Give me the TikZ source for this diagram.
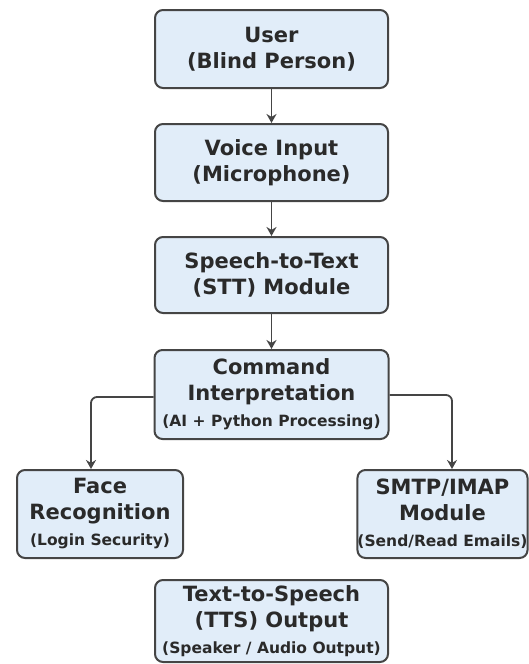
\documentclass[tikz,border=0pt]{standalone}
\usepackage{fontspec}
\setmainfont{DejaVu Sans}
\usetikzlibrary{arrows.meta}
\definecolor{boxfill}{HTML}{E1EDF9}
\definecolor{boxline}{HTML}{454545}
\definecolor{txt}{HTML}{2A2A2A}
\newcommand{\bigf}{\fontsize{21}{26}\selectfont\bfseries}
\newcommand{\smf}{\fontsize{15.5}{21}\selectfont\bfseries}
\tikzset{
  blk/.style={draw=boxline, line width=2pt, fill=boxfill, rounded corners=8pt,
    align=center, text=txt, font=\bigf, inner sep=0pt},
  arr/.style={draw=boxline, line width=1.8pt, rounded corners=6pt,
    -{Stealth[length=9pt,width=10pt]}}
}
\begin{document}
\begin{tikzpicture}[x=1pt,y=-1pt]
\useasboundingbox (0,0) rectangle (528,664);
\node[blk, minimum width=233pt, minimum height=78pt] (user) at (271.5,49) {User\\(Blind Person)};
\node[blk, minimum width=233pt, minimum height=77pt] (voice) at (271.5,162.5) {Voice Input\\(Microphone)};
\node[blk, minimum width=233pt, minimum height=76pt] (stt) at (271.5,275) {Speech-to-Text\\(STT) Module};
\node[blk, minimum width=234pt, minimum height=89pt] (cmd) at (271.5,394.5) {Command\\Interpretation\\{\smf (AI + Python Processing)}};
\node[blk, minimum width=166pt, minimum height=88pt] (face) at (100,514) {Face\\Recognition\\{\smf (Login Security)}};
\node[blk, minimum width=169pt, minimum height=88pt] (smtp) at (442.5,514) {SMTP/IMAP\\Module\\{\smf (Send/Read Emails)}};
\node[blk, minimum width=233pt, minimum height=82pt] (tts) at (271.5,621) {Text-to-Speech\\(TTS) Output\\{\smf (Speaker / Audio Output)}};
\draw[arr] (user) -- (voice);
\draw[arr] (voice) -- (stt);
\draw[arr] (stt) -- (cmd);
\coordinate (fl) at (91,0);
\coordinate (sr) at (452,0);
\draw[arr] (cmd.west |- 0,397) -| (fl |- face.north);
\draw[arr] (cmd.east |- 0,395) -| (sr |- smtp.north);
\end{tikzpicture}
\end{document}
